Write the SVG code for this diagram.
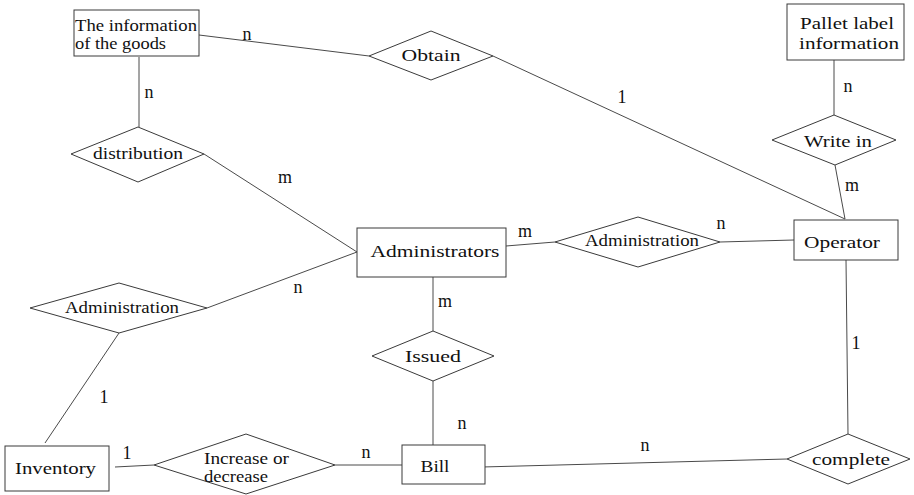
<svg xmlns="http://www.w3.org/2000/svg" width="914" height="495" viewBox="0 0 914 495">
  <style>
    .shape { fill: #ffffff; stroke: #3a3a3a; stroke-width: 1; }
    .link { stroke: #4a4a4a; stroke-width: 1; fill: none; }
    text { font-family: "Liberation Serif", "Times New Roman", serif; fill: #111111; }
    .lbl { font-size: 17px; text-anchor: middle; }
    .card { font-size: 18px; text-anchor: middle; }
  </style>
  <rect width="914" height="495" fill="#ffffff"/>

  <!-- connectors with cardinality labels -->
  <g id="connectors">
    <line class="link" x1="199" y1="35" x2="369" y2="56"/>
    <line class="link" x1="139" y1="57" x2="139" y2="127"/>
    <line class="link" x1="204" y1="154" x2="357" y2="252"/>
    <line class="link" x1="493" y1="56" x2="845" y2="219"/>
    <line class="link" x1="834" y1="60" x2="834" y2="115"/>
    <line class="link" x1="835" y1="165" x2="845" y2="219"/>
    <line class="link" x1="720" y1="242" x2="794" y2="240"/>
    <line class="link" x1="506" y1="246" x2="555" y2="242"/>
    <line class="link" x1="207" y1="308" x2="357" y2="252"/>
    <line class="link" x1="433" y1="267" x2="433" y2="331"/>
    <line class="link" x1="433" y1="381" x2="433" y2="445"/>
    <line class="link" x1="119" y1="333" x2="45" y2="443"/>
    <line class="link" x1="115" y1="467" x2="154" y2="465"/>
    <line class="link" x1="335" y1="465" x2="402" y2="465"/>
    <line class="link" x1="482" y1="467" x2="787" y2="459"/>
    <line class="link" x1="846" y1="260" x2="848" y2="434"/>

    <text class="card" x="247" y="40">n</text>
    <text class="card" x="149" y="98">n</text>
    <text class="card" x="285" y="183">m</text>
    <text class="card" x="622" y="103">1</text>
    <text class="card" x="848" y="92">n</text>
    <text class="card" x="852" y="191">m</text>
    <text class="card" x="721" y="229">n</text>
    <text class="card" x="525" y="237">m</text>
    <text class="card" x="298" y="293">n</text>
    <text class="card" x="445" y="307">m</text>
    <text class="card" x="104" y="403">1</text>
    <text class="card" x="462" y="429">n</text>
    <text class="card" x="856" y="349">1</text>
    <text class="card" x="127" y="459">1</text>
    <text class="card" x="366" y="458">n</text>
    <text class="card" x="645" y="451">n</text>
  </g>

  <!-- entities -->
  <g id="goods-info">
    <rect class="shape" x="74" y="10" width="125" height="46"/>
    <text x="75" y="31" font-size="17" textLength="122" lengthAdjust="spacingAndGlyphs">The information</text>
    <text x="75" y="49" font-size="17" textLength="91" lengthAdjust="spacingAndGlyphs">of the goods</text>
  </g>
  <g id="pallet-label">
    <rect class="shape" x="787" y="4" width="117" height="56"/>
    <text class="lbl" x="847" y="29" font-size="18" textLength="94" lengthAdjust="spacingAndGlyphs">Pallet label</text>
    <text class="lbl" x="849" y="49" font-size="18" textLength="100" lengthAdjust="spacingAndGlyphs">information</text>
  </g>
  <g id="administrators">
    <rect class="shape" x="357" y="228" width="149" height="49"/>
    <text class="lbl" x="435" y="257" font-size="19" textLength="129" lengthAdjust="spacingAndGlyphs">Administrators</text>
  </g>
  <g id="operator">
    <rect class="shape" x="794" y="220" width="104" height="40"/>
    <text class="lbl" x="842" y="248" font-size="19" textLength="76" lengthAdjust="spacingAndGlyphs">Operator</text>
  </g>
  <g id="inventory">
    <rect class="shape" x="5" y="446" width="104" height="45"/>
    <text class="lbl" x="55.5" y="474" font-size="19" textLength="81" lengthAdjust="spacingAndGlyphs">Inventory</text>
  </g>
  <g id="bill">
    <rect class="shape" x="402" y="445" width="83" height="39"/>
    <text class="lbl" x="435" y="471.5" font-size="19" textLength="29" lengthAdjust="spacingAndGlyphs">Bill</text>
  </g>

  <!-- relationships -->
  <g id="obtain">
    <polygon class="shape" points="369,56 431,31 493,56 431,80"/>
    <text class="lbl" x="431" y="61" font-size="18" textLength="59" lengthAdjust="spacingAndGlyphs">Obtain</text>
  </g>
  <g id="write-in">
    <polygon class="shape" points="772,140 834,115 896,140 835,165"/>
    <text class="lbl" x="838" y="147" font-size="18" textLength="68" lengthAdjust="spacingAndGlyphs">Write in</text>
  </g>
  <g id="distribution">
    <polygon class="shape" points="71,154 138,127 204,154 138,182"/>
    <text class="lbl" x="138" y="159" font-size="17" textLength="90" lengthAdjust="spacingAndGlyphs">distribution</text>
  </g>
  <g id="administration-operator">
    <polygon class="shape" points="555,242 638,217 720,242 638,267"/>
    <text class="lbl" x="642" y="246" font-size="17" textLength="114" lengthAdjust="spacingAndGlyphs">Administration</text>
  </g>
  <g id="administration-inventory">
    <polygon class="shape" points="30,308 119,283 207,308 119,333"/>
    <text class="lbl" x="122" y="313" font-size="17" textLength="114" lengthAdjust="spacingAndGlyphs">Administration</text>
  </g>
  <g id="issued">
    <polygon class="shape" points="372,356 433,331 494,356 433,381"/>
    <text class="lbl" x="433" y="362" font-size="18" textLength="56" lengthAdjust="spacingAndGlyphs">Issued</text>
  </g>
  <g id="increase-decrease">
    <polygon class="shape" points="154,465 246,434 335,465 246,494"/>
    <text x="204" y="463.5" font-size="16" textLength="85" lengthAdjust="spacingAndGlyphs">Increase or</text>
    <text x="204" y="482" font-size="16" textLength="64" lengthAdjust="spacingAndGlyphs">decrease</text>
  </g>
  <g id="complete">
    <polygon class="shape" points="787,459 848,434 910,459 848,484"/>
    <text class="lbl" x="851" y="465" font-size="18" textLength="78" lengthAdjust="spacingAndGlyphs">complete</text>
  </g>
</svg>
